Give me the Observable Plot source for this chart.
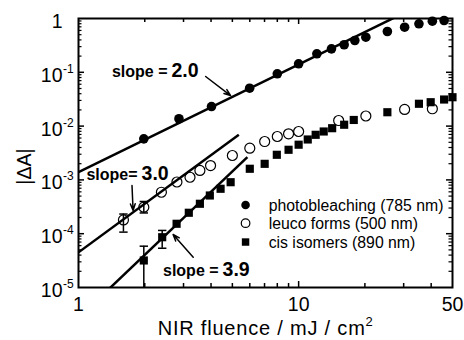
<!DOCTYPE html>
<html><head><meta charset="utf-8">
<script src="https://cdn.jsdelivr.net/npm/d3@7"></script>
<script src="https://cdn.jsdelivr.net/npm/@observablehq/plot@0.6"></script>
<style>
body{margin:0;background:#fff}
</style></head><body><div id="chart"></div>
<script>
// ---- data ----
const photoX = [1.98,2.86,4.02,5.99,8.0,10.0,12.1,14.1,16.1,18.0,20.2,25.3,30.3,35.2,40.5,45.8];
const photoY = [5.8e-3,1.37e-2,2.31e-2,0.0506,0.0938,0.144,0.221,0.273,0.325,0.390,0.449,0.573,0.689,0.797,0.891,0.918];
const leucoX = [1.6,1.98,2.38,2.80,3.21,3.56,3.98,5.0,6.0,7.01,8.0,9.0,10.0,15.2,20.2,30.3,40.5];
const leucoY = [1.8e-4,3.11e-4,5.9e-4,9.14e-4,1.12e-3,1.50e-3,1.85e-3,2.84e-3,3.88e-3,5.17e-3,6.41e-3,7.19e-3,7.94e-3,1.27e-2,1.54e-2,2.04e-2,2.1e-2];
const cisX = [1.98,2.40,2.79,3.17,3.56,3.95,4.42,4.91,6.0,7.01,7.96,9.0,10.0,11.0,11.95,13.0,14.2,16.1,17.8,25.3,35.2,39.8,45.8,50];
const cisY = [3.18e-5,8.6e-5,1.53e-4,2.45e-4,3.6e-4,5.13e-4,6.84e-4,9.06e-4,1.61e-3,1.99e-3,2.93e-3,3.63e-3,4.51e-3,5.64e-3,6.89e-3,7.94e-3,9.14e-3,1.06e-2,1.30e-2,1.81e-2,2.6e-2,2.78e-2,3.12e-2,3.44e-2];

const errX = [1.6,1.98,1.98,2.40];
const errLow = [1.07e-4,2.43e-4,1e-5,5.37e-5];
const errHigh = [2.32e-4,3.97e-4,5.86e-5,1.15e-4];

const fitSlope = [2.0,3.0,3.9];
const fitCoef = [1.4e-3,4.5e-5,2.71e-6];
const fitXStart = [1,1,1.3];
const fitXEnd = [30,5.35,5.85];

const annoPrefix = ["slope =","slope=","slope ="];
const annoValue = ["2.0","3.0","3.9"];
const annoX = [2.59,1.894,4.42];
const annoY = [0.0835,9.75e-4,1.67e-5];
const arrowX1 = [3.78,1.75,3.32], arrowY1 = [0.0836,7.87e-4,3.66e-5];
const arrowX2 = [4.91,1.77,2.69], arrowY2 = [0.037,2.7e-4,9.66e-5];

const legendLabels = ["photobleaching (785 nm)","leuco forms (500 nm)","cis isomers (890 nm)"];
const legendY = [3.42e-4,1.57e-4,7.0e-5];
const legendMarkX = 5.74, legendTextX = 7.31;

const xMajor = [1,10,50];
const xTickLabels = ["1","10","50"];
const xMinor = [2,3,4,5,6,7,8,9,20,30,40];
const yMajor = [1,1e-1,1e-2,1e-3,1e-4,1e-5];
const yTickBase = ["1","10","10","10","10","10"];
const yTickExp = ["","-1","-2","-3","-4","-5"];
const yInnerMajor = [1e-1,1e-2,1e-3,1e-4];
const yMinor = [];
for (const d of [1e-5,1e-4,1e-3,1e-2,1e-1]) for (let k=2;k<=9;k++) yMinor.push(k*d);

const xTitle = "NIR fluence / mJ / cm";
const xTitleSup = "2";
const yTitle = "|\u0394A|";
const yTitleY = 1.77e-3, xTitleX = 7.08;

// ---- layout ----
const W = 464, H = 340, mt = 18, mr = 12, mb = 53, ml = 78;
const PW = W - ml - mr, PH = H - mt - mb;
const idx = a => a.map((_, i) => i);
const capSymbol = {draw(ctx, size){ const r = Math.sqrt(size/Math.PI); ctx.moveTo(-r,0); ctx.lineTo(r,0); }};
const font = "'Liberation Sans', Arial, Helvetica, sans-serif";

const chart = Plot.plot({
  width: W, height: H, marginTop: mt, marginRight: mr, marginBottom: mb, marginLeft: ml,
  x: {type: "log", domain: [1, 50], axis: null},
  y: {type: "log", domain: [1e-5, 1], axis: null},
  style: {fontFamily: font, background: "white", overflow: "visible", color: "black"},
  marks: [
    // ticks (inward)
    Plot.tickX(xMinor, {x: d => d, insetTop: PH - 4, strokeWidth: 1.5}),
    Plot.tickX(xMinor, {x: d => d, insetBottom: PH - 4, strokeWidth: 1.5}),
    Plot.tickX([10], {x: d => d, insetTop: PH - 6, strokeWidth: 1.5}),
    Plot.tickX([10], {x: d => d, insetBottom: PH - 6, strokeWidth: 1.5}),
    Plot.tickY(yMinor, {y: d => d, insetRight: PW - 3.5, strokeWidth: 1.2}),
    Plot.tickY(yMinor, {y: d => d, insetLeft: PW - 3.5, strokeWidth: 1.2}),
    Plot.tickY(yInnerMajor, {y: d => d, insetRight: PW - 6, strokeWidth: 1.5}),
    Plot.tickY(yInnerMajor, {y: d => d, insetLeft: PW - 6, strokeWidth: 1.5}),
    // fit lines
    Plot.link(idx(fitSlope), {
      x1: i => fitXStart[i], x2: i => fitXEnd[i],
      y1: i => fitCoef[i] * Math.pow(fitXStart[i], fitSlope[i]),
      y2: i => fitCoef[i] * Math.pow(fitXEnd[i], fitSlope[i]),
      stroke: "black", strokeWidth: 2.5, clip: true
    }),
    // error bars
    Plot.ruleX(idx(errX), {x: i => errX[i], y1: i => errLow[i], y2: i => errHigh[i], strokeWidth: 1.5, clip: true}),
    Plot.dot(idx(errX), {x: i => errX[i], y: i => errHigh[i], symbol: capSymbol, r: 4.2, stroke: "black", strokeWidth: 1.5}),
    Plot.dot(idx(errX).filter(i => errLow[i] > 1e-5), {x: i => errX[i], y: i => errLow[i], symbol: capSymbol, r: 4.2, stroke: "black", strokeWidth: 1.5}),
    // data
    Plot.dot(idx(photoX), {x: i => photoX[i], y: i => photoY[i], r: 4.8, fill: "black", stroke: "none"}),
    Plot.dot(idx(leucoX), {x: i => leucoX[i], y: i => leucoY[i], r: 5, fill: "none", stroke: "black", strokeWidth: 1.2}),
    Plot.dot(idx(cisX), {x: i => cisX[i], y: i => cisY[i], r: 4.6, symbol: "square", fill: "black", stroke: "none"}),
    // annotations
    Plot.arrow(idx(arrowX1), {x1: i => arrowX1[i], y1: i => arrowY1[i], x2: i => arrowX2[i], y2: i => arrowY2[i],
      stroke: "black", strokeWidth: 1.5, headLength: 7, headAngle: 40}),
    Plot.text(idx(annoPrefix), {x: i => annoX[i], y: i => annoY[i], text: i => annoPrefix[i], textAnchor: "end", lineAnchor: "bottom",
      dx: -2, fontSize: 16, fontWeight: "bold", fill: "black"}),
    Plot.text(idx(annoValue), {x: i => annoX[i], y: i => annoY[i], text: i => annoValue[i], textAnchor: "start", lineAnchor: "bottom",
      dx: 2, fontSize: 19.5, fontWeight: "bold", fill: "black"}),
    // legend
    Plot.dot([0], {x: () => legendMarkX, y: () => legendY[0], r: 4.3, fill: "black", stroke: "none"}),
    Plot.dot([1], {x: () => legendMarkX, y: () => legendY[1], r: 4.3, fill: "none", stroke: "black", strokeWidth: 1.2}),
    Plot.dot([2], {x: () => legendMarkX, y: () => legendY[2], r: 4.2, symbol: "square", fill: "black", stroke: "none"}),
    Plot.text(idx(legendLabels), {x: () => legendTextX, y: i => legendY[i], text: i => legendLabels[i], textAnchor: "start", dy: 1,
      fontSize: 15.8, fill: "black"}),
    // tick labels
    Plot.text(idx(xMajor), {x: i => xMajor[i], text: i => xTickLabels[i], frameAnchor: "bottom", dy: 23, lineAnchor: "bottom",
      fontSize: 19.5, fill: "black"}),
    Plot.text(idx(yMajor), {y: i => yMajor[i], text: i => yTickBase[i], frameAnchor: "left", dx: -16, dy: 9.5, textAnchor: "end",
      lineAnchor: "bottom", fontSize: 19.5, fill: "black"}),
    Plot.text(idx(yMajor).filter(i => yTickExp[i]), {y: i => yMajor[i], text: i => yTickExp[i], frameAnchor: "left", dx: -15.5, dy: 0.5,
      textAnchor: "start", lineAnchor: "bottom", fontSize: 12, fill: "black"}),
    // axis titles
    Plot.text([xTitle], {x: () => xTitleX, text: d => d, frameAnchor: "bottom", dy: 47, lineAnchor: "bottom", fontSize: 20,
      fill: "black"}),
    Plot.text([yTitle], {y: () => yTitleY, text: d => d, frameAnchor: "left", dx: -53.5, rotate: -90, textAnchor: "middle",
      fontSize: 19.5, fill: "black"}),
    Plot.frame({stroke: "black", strokeWidth: 2})
  ]
});
document.getElementById("chart").appendChild(chart);

// superscript on the x title
for (const t of chart.querySelectorAll("text")) {
  if (t.textContent === xTitle) {
    t.setAttribute("letter-spacing", "0.8");
    const ts = document.createElementNS("http://www.w3.org/2000/svg", "tspan");
    ts.setAttribute("dy", "-9");
    ts.setAttribute("font-size", "13");
    ts.textContent = xTitleSup;
    t.appendChild(ts);
  }
  if (t.textContent === yTitle) t.setAttribute("text-anchor", "middle");
}
</script></body></html>
